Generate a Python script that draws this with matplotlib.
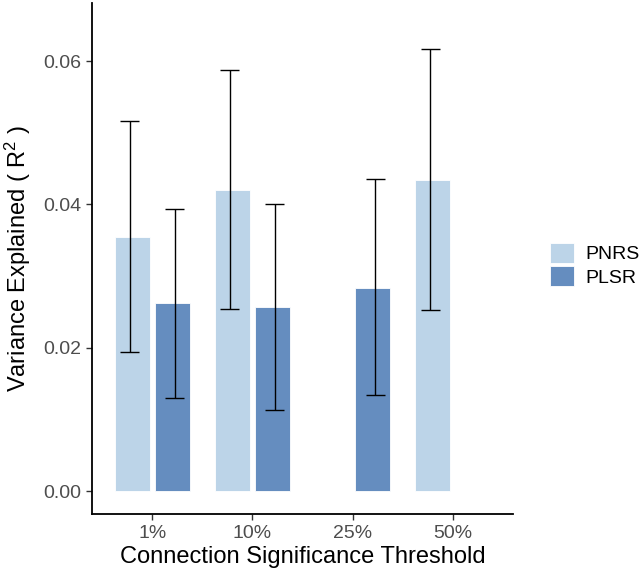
import numpy as np
import matplotlib.pyplot as plt

thresholds = ['1%', '10%', '25%', '50%']
methods = ['PNRS', 'PLSR']
# nan = no bar for that method at that threshold
pnrs_mean = [0.0355, 0.0420, np.nan, 0.0434]
pnrs_lo = [0.0194, 0.0254, np.nan, 0.0253]
pnrs_hi = [0.0516, 0.0587, np.nan, 0.0617]
plsr_mean = [0.0262, 0.0257, 0.0284, np.nan]
plsr_lo = [0.0130, 0.0113, 0.0134, np.nan]
plsr_hi = [0.0394, 0.0401, 0.0435, np.nan]

colors = {'PNRS': '#bcd4e8', 'PLSR': '#658dbf'}

plt.rcParams['font.family'] = ['Liberation Sans', 'DejaVu Sans']
plt.rcParams['mathtext.fontset'] = 'custom'
plt.rcParams['mathtext.rm'] = 'Liberation Sans'
plt.rcParams['mathtext.it'] = 'Liberation Sans:italic'

fig = plt.figure(figsize=(6.44, 5.76), dpi=100)
ax = fig.add_axes([92 / 644, 62 / 576, 421 / 644, 511 / 576])

x = np.arange(1, len(thresholds) + 1)
series = [(pnrs_mean, pnrs_lo, pnrs_hi, -1), (plsr_mean, plsr_lo, plsr_hi, 1)]
for name, (m, lo, hi, side) in zip(methods, series):
    m = np.array(m); lo = np.array(lo); hi = np.array(hi)
    ok = ~np.isnan(m)
    ax.bar(x[ok] + side * 0.2, m[ok], width=0.35, color=colors[name],
           edgecolor='white', linewidth=0.6, label=name, zorder=2)
    ex = x[ok] + side * 0.225
    ax.vlines(ex, lo[ok], hi[ok], color='black', linewidth=1.0, zorder=3)
    ax.hlines(lo[ok], ex - 0.095, ex + 0.095, color='black', linewidth=1.0, zorder=3)
    ax.hlines(hi[ok], ex - 0.095, ex + 0.095, color='black', linewidth=1.0, zorder=3)

ax.set_xlim(0.4, 4.6)
ax.set_ylim(-0.0032, 0.0681)
ax.set_xticks(x)
ax.set_xticklabels(thresholds)
ax.set_yticks([0, 0.02, 0.04, 0.06])
ax.set_yticklabels(['0.00', '0.02', '0.04', '0.06'])

for s in ['top', 'right']:
    ax.spines[s].set_visible(False)
for s in ['left', 'bottom']:
    ax.spines[s].set_linewidth(1.3)
    ax.spines[s].set_color('black')
ax.tick_params(axis='both', length=4, width=1, color='#333333',
               labelsize=14, labelcolor='#4d4d4d', pad=4)

ax.set_xlabel('Connection Significance Threshold', fontsize=17, color='black', labelpad=3)
ax.set_ylabel('Variance Explained ( $\\mathregular{R^2}$ )', fontsize=17,
              color='black', labelpad=7)

leg = ax.legend(loc='center left', frameon=False,
                fontsize=14, handlelength=1.25, handleheight=1.2,
                handletextpad=0.55, labelspacing=0.15, borderaxespad=0,
                borderpad=0)
leg.set_bbox_to_anchor((1.088, 0.488), transform=ax.transAxes)

fig.savefig('out.png', dpi=100)
